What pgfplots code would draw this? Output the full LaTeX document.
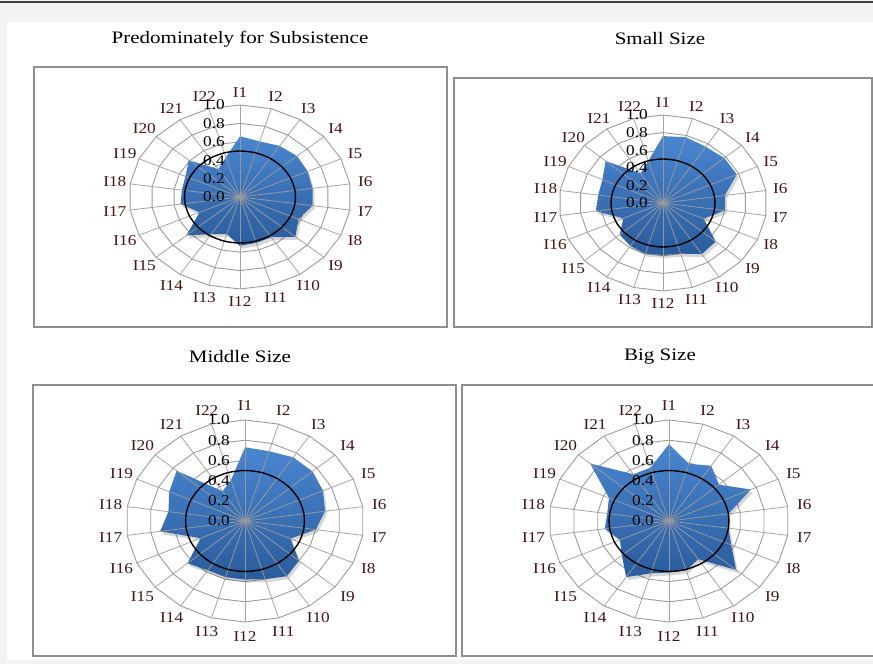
\documentclass[border=0pt]{standalone}
\usepackage{fontspec}
\setmainfont{Liberation Serif}
\newfontfamily\labfont[FakeStretch=1.15]{Liberation Serif}
\newfontfamily\titfont[FakeStretch=1.2]{Liberation Serif}
\usepackage{pgfplots}
\usepackage{pgfplotstable}
\pgfplotsset{compat=1.18}
\definecolor{bgc}{HTML}{F2F3F5}
\definecolor{framec}{HTML}{8E8E8E}
\definecolor{gridc}{HTML}{9C9C9C}
\definecolor{labc}{HTML}{451414}
\definecolor{blueT}{HTML}{4A86D0}
\definecolor{blueB}{HTML}{2A5C9C}

\pgfplotstableread{
a p1 p2 p3 p4 t lab
90 0.66 0.76 0.73 0.76 0.5 I1
73.636 0.63 0.78 0.72 0.59 0.5 I2
57.273 0.66 0.76 0.75 0.65 0.5 I3
40.909 0.68 0.78 0.75 0.55 0.5 I4
24.545 0.67 0.78 0.72 0.75 0.5 I5
8.182 0.66 0.60 0.68 0.50 0.5 I6
-8.182 0.66 0.60 0.60 0.50 0.5 I7
-24.545 0.58 0.43 0.42 0.57 0.5 I8
-40.909 0.66 0.67 0.60 0.74 0.5 I9
-57.273 0.52 0.69 0.65 0.45 0.5 I10
-73.636 0.52 0.60 0.60 0.51 0.5 I11
-90 0.53 0.59 0.58 0.51 0.5 I12
-106.364 0.42 0.60 0.58 0.54 0.5 I13
-122.727 0.48 0.58 0.58 0.66 0.5 I14
-139.091 0.64 0.55 0.64 0.52 0.5 I15
-155.455 0.40 0.42 0.41 0.45 0.5 I16
-171.818 0.54 0.65 0.72 0.54 0.5 I17
-188.182 0.53 0.63 0.65 0.52 0.5 I18
-204.545 0.54 0.64 0.70 0.55 0.5 I19
-220.909 0.61 0.73 0.76 0.87 0.5 I20
-237.273 0.36 0.40 0.35 0.55 0.5 I21
-253.636 0.45 0.50 0.42 0.55 0.5 I22
-270 0.66 0.76 0.73 0.76 0.5 I1
}\data

\pgfplotstableread{
a r lab
90 0.0 0.0
90 0.2 0.2
90 0.4 0.4
90 0.6 0.6
90 0.8 0.8
90 1.0 1.0
}\rticks

\pgfplotsset{radar/.style={
  scale only axis, axis lines=none, ticks=none, clip=false,
  xmin=-1, xmax=1, ymin=-1, ymax=1, anchor=center}}

\newcommand{\radarbody}[1]{%
  \pgfplotsinvokeforeach{0.2,0.4,0.6,0.8,1.0}{%
    \addplot[gridc, line width=0.9pt, data cs=polar] table[x=a, y expr=##1]{\data};}
  \addplot[draw=none, fill=black, opacity=0.16, data cs=polar, xshift=2pt, yshift=-3pt] table[x=a,y=#1]{\data};
  \addplot[draw=none, top color=blueT, bottom color=blueB, data cs=polar] table[x=a,y=#1]{\data};
  \pgfplotsinvokeforeach{90,73.636,57.273,40.909,24.545,8.182,-8.182,-24.545,-40.909,-57.273,-73.636,-90,-106.364,-122.727,-139.091,-155.455,-171.818,-188.182,-204.545,-220.909,-237.273,-253.636}{%
    \addplot[gridc, opacity=0.9, line width=0.8pt, data cs=polar] coordinates {(##1,0) (##1,1)};}
  \addplot[black, line width=1.4pt, smooth cycle, data cs=polar] table[x=a,y=t, skip coords between index={22}{23}]{\data};
  \addplot[draw=none, data cs=polar, nodes near coords, point meta=explicit symbolic,
    every node near coord/.append style={font=\labfont\fontsize{15}{16}\selectfont, text=labc, anchor=center, inner sep=0pt}]
    table[x=a, y expr=1.14, meta=lab, skip coords between index={22}{23}]{\data};
  \addplot[draw=none, data cs=polar, nodes near coords, point meta=explicit symbolic,
    every node near coord/.append style={font=\labfont\fontsize{15}{16}\selectfont, text=black, anchor=east, inner sep=0pt, xshift=-15pt}]
    table[x=a, y=r, meta=lab]{\rticks};
}

\begin{document}
\begin{tikzpicture}
\useasboundingbox (0,0) rectangle (873pt,664pt);
\fill[bgc] (0,0) rectangle (873pt,664pt);
\fill[white] (7pt,4pt) rectangle (873pt,642pt);
\draw[black!75, line width=1.2pt] (0,662pt) -- (873pt,662pt);
% frames
\draw[framec, line width=1.8pt] (34pt,337pt) rectangle (447pt,597pt);
\draw[framec, line width=1.8pt] (454pt,337pt) rectangle (872pt,586pt);
\draw[framec, line width=1.8pt] (33pt,8pt) rectangle (456pt,279pt);
\draw[framec, line width=1.8pt] (462pt,8pt) rectangle (880pt,279pt);
% titles
\node[font=\titfont\fontsize{17.5}{18}\selectfont] at (240pt,625pt) {Predominately for Subsistence};
\node[font=\titfont\fontsize{17.5}{18}\selectfont] at (660pt,625pt) {Small Size};
\node[font=\titfont\fontsize{17.5}{18}\selectfont] at (240pt,307pt) {Middle Size};
\node[font=\titfont\fontsize{17.5}{18}\selectfont] at (660pt,307pt) {Big Size};

\begin{axis}[radar, at={(240pt,467pt)}, width=222pt, height=184pt]
\radarbody{p1}
\end{axis}
\begin{axis}[radar, at={(663pt,461pt)}, width=208pt, height=176pt]
\radarbody{p2}
\end{axis}
\begin{axis}[radar, at={(245pt,143pt)}, width=238pt, height=202pt]
\radarbody{p3}
\end{axis}
\begin{axis}[radar, at={(669pt,143pt)}, width=240pt, height=202pt]
\radarbody{p4}
\end{axis}
\end{tikzpicture}
\end{document}
